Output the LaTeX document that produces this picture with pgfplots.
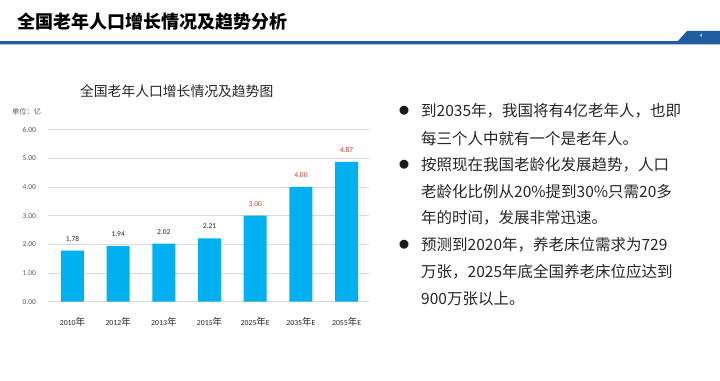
\documentclass[border=0pt]{standalone}
\usepackage{fontspec}
\usepackage{pgfplots}
\pgfplotsset{compat=1.18}
\setmainfont{Noto Sans CJK SC}
\newfontfamily\carlito{Carlito}
\definecolor{barblue}{RGB}{0,176,240}
\definecolor{labred}{RGB}{215,60,48}
\definecolor{tickgray}{RGB}{89,89,89}
\definecolor{hdrblue}{RGB}{31,92,160}
\definecolor{txt}{RGB}{38,38,38}
\newcommand{\yr}[2]{{\carlito\fontsize{7.8bp}{9bp}\selectfont #1}{\fontsize{9.5bp}{10bp}\selectfont 年}{\carlito\fontsize{7.8bp}{9bp}\selectfont #2}}
\begin{document}
\begin{tikzpicture}[x=1bp,y=1bp]
\fill[white] (0,0) rectangle (720,380);
% header
\node[anchor=west,inner sep=0,text=black] at (17,358) {\fontsize{18bp}{20bp}\selectfont\bfseries 全国老年人口增长情况及趋势分析};
\fill[hdrblue!35] (0,335.2) rectangle (720,336.2);
\fill[hdrblue] (0,336.2) rectangle (720,338.6);
\fill[hdrblue] (677,338) -- (687,349) -- (720,349) -- (720,338) -- cycle;
\node[text=white,inner sep=0] at (701,344.5) {\fontsize{5bp}{6bp}\selectfont 4};
% chart title and unit
\node[inner sep=0,text=black!85] at (176.7,289.3) {\fontsize{13.8bp}{16bp}\selectfont 全国老年人口增长情况及趋势图};
\node[anchor=west,inner sep=0,text=tickgray] at (12,268) {\fontsize{7.2bp}{8bp}\selectfont 单位：亿};
\begin{axis}[
  at={(48bp,78.3bp)}, anchor=south west,
  scale only axis, width=321bp, height=172.2bp,
  xmin=-0.536, xmax=6.49, ymin=0, ymax=6,
  ybar, bar width=23bp,
  axis line style={draw=none},
  major tick length=0pt,
  ytick={0,1,2,3,4,5,6},
  ymajorgrids,
  grid style={draw=black!15, line width=0.7bp},
  xtick={0,1,2,3,4,5,6},
  xticklabels={\yr{2010}{},\yr{2012}{},\yr{2013}{},\yr{2015}{},\yr{2025}{E},\yr{2035}{E},\yr{2055}{E}},
  xticklabel style={text=txt, yshift=-12bp},
  /pgf/number format/assume math mode=true,
  yticklabel={\pgfmathprintnumber[fixed,fixed zerofill,precision=2]{\tick}},
  yticklabel style={font=\carlito\fontsize{7.5bp}{9bp}\selectfont, text=tickgray, anchor=east, xshift=-8.5bp},
  nodes near coords={\pgfmathprintnumber[fixed,fixed zerofill,precision=2]{\pgfplotspointmeta}},
  nodes near coords style={font=\carlito\fontsize{7.5bp}{9bp}\selectfont, yshift=6bp},
]
\addplot[fill=barblue, draw=none, bar shift=0pt, nodes near coords style={text=txt}] coordinates {(0,1.78) (1,1.94) (2,2.02) (3,2.21)};
\addplot[fill=barblue, draw=none, bar shift=0pt, nodes near coords style={text=labred}] coordinates {(4,3.00) (5,4.00) (6,4.87)};
\end{axis}
% right text
\begin{scope}[every node/.style={inner sep=0,text=txt}]
\node[text=black!90] at (404,269.3) {\fontsize{10bp}{10bp}\selectfont ●};
\node[text=black!90] at (404,215) {\fontsize{10bp}{10bp}\selectfont ●};
\node[text=black!90] at (404,135) {\fontsize{10bp}{10bp}\selectfont ●};
\end{scope}
\begin{scope}[every node/.style={anchor=west,inner sep=0,text=txt,font=\fontsize{15.5bp}{18bp}\selectfont}]
\node at (421,269.3) {到2035年，我国将有4亿老年人，也即};
\node at (421,241.7) {每三个人中就有一个是老年人。};
\node at (421,215) {按照现在我国老龄化发展趋势，人口};
\node at (421,188.3) {老龄化比例从20\%提到30\%只需20多};
\node at (421,162.3) {年的时间，发展非常迅速。};
\node at (421,135) {预测到2020年，养老床位需求为729};
\node at (421,108.3) {万张，2025年底全国养老床位应达到};
\node at (421,81.7) {900万张以上。};
\end{scope}
\end{tikzpicture}
\end{document}
